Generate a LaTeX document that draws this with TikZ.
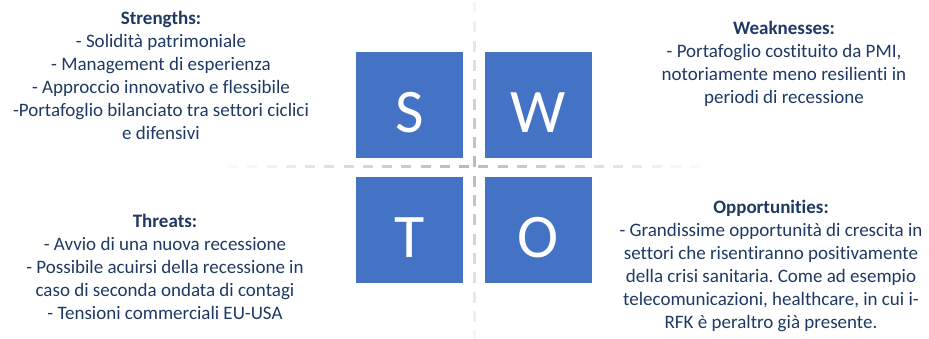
\documentclass[tikz,border=0pt]{standalone}
\usepackage{fontspec}
\setmainfont{Carlito}[Ligatures={NoCommon}]
\usepackage{xcolor}
\usepackage{tikz}
\usetikzlibrary{positioning}
\frenchspacing

\definecolor{swotblue}{HTML}{4472C4}
\definecolor{swotnavy}{HTML}{1F3864}

\begin{document}
\begin{tikzpicture}[x=1pt,y=-1pt,
  quad/.style={fill=swotblue,draw=none,minimum width=107pt,minimum height=106pt,inner sep=0pt,
    text=white,font=\fontsize{62}{62}\selectfont,text height=54pt,text depth=0pt},
  swottext/.style={align=center,text=swotnavy,inner sep=0pt,font=\fontsize{19}{23}\selectfont}
]
  \useasboundingbox (0,0) rectangle (929,338);

  % dashed cross, fading towards the ends
  \foreach \n in {0,...,24}{
    \pgfmathsetmacro{\xa}{228+19.25*\n}
    \pgfmathsetmacro{\k}{max(5,55*(1-abs(\xa+5-465)/245))}
    \draw[line width=3pt,color=gray!\k] (\xa,166) -- ++(10,0);
  }
  \foreach \n in {0,...,17}{
    \pgfmathsetmacro{\ya}{2+19.3*\n}
    \pgfmathsetmacro{\k}{max(5,55*(1-abs(\ya+5-169)/190))}
    \draw[line width=3pt,color=gray!\k] (474,\ya) -- ++(0,11);
  }

  \node[quad] (boxS) at (409.5,105) {S};
  \node[quad] (boxW) at (538,105) {W};
  \node[quad] (boxT) at (409.5,230) {T};
  \node[quad] (boxO) at (538,230) {O};

  \node[swottext] (strengths) at (161,75) {\textbf{Strengths:}\\- Solidità patrimoniale\\- Management di esperienza\\- Approccio innovativo e flessibile\\-Portafoglio bilanciato tra settori ciclici\\e difensivi};
  \node[swottext] (weaknesses) at (784,64) {\textbf{Weaknesses:}\\- Portafoglio costituito da PMI,\\notoriamente meno resilienti in\\periodi di recessione};
  \node[swottext] (threats) at (165,267) {\textbf{Threats:}\\- Avvio di una nuova recessione\\- Possibile acuirsi della recessione in\\caso di seconda ondata di contagi\\- Tensioni commerciali EU-USA};
  \node[swottext] (opportunities) at (771,265.5) {\textbf{Opportunities:}\\- Grandissime opportunità di crescita in\\settori che risentiranno positivamente\\della crisi sanitaria. Come ad esempio\\telecomunicazioni, healthcare, in cui i-\\RFK è peraltro già presente.};
\end{tikzpicture}
\end{document}
